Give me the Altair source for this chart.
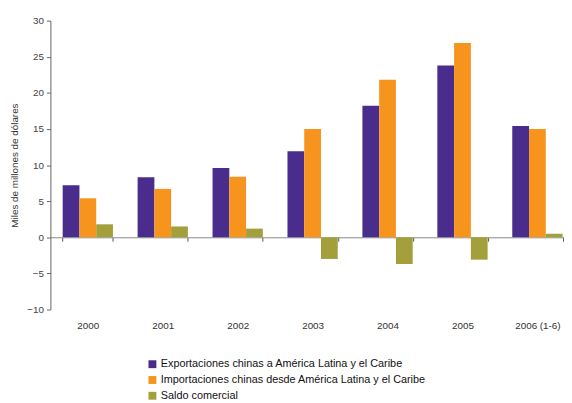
import altair as alt
import pandas as pd

years = ["2000", "2001", "2002", "2003", "2004", "2005", "2006 (1-6)"]
series = [
    "Exportaciones chinas a América Latina y el Caribe",
    "Importaciones chinas desde América Latina y el Caribe",
    "Saldo comercial",
]
exportaciones = [7.2, 8.3, 9.6, 11.9, 18.2, 23.8, 15.4]
importaciones = [5.4, 6.7, 8.4, 15.0, 21.8, 26.9, 15.0]
saldo = [1.8, 1.5, 1.2, -3.0, -3.7, -3.1, 0.5]
colors = ["#4a2c8c", "#f7941d", "#a3a03c"]
y_ticks = [-10, -5, 0, 5, 10, 15, 20, 25, 30]

rows = []
for vals, s in zip([exportaciones, importaciones, saldo], series):
    for yr, v in zip(years, vals):
        rows.append({"year": yr, "serie": s, "value": v})
df = pd.DataFrame(rows)

H = 293
FONT = "Liberation Sans"

chart = alt.Chart(df).mark_bar().encode(
    x=alt.X(
        "year:N",
        sort=years,
        title=None,
        scale=alt.Scale(range=[0, 532], paddingInner=0.329, paddingOuter=0.164),
        axis=alt.Axis(
            orient="bottom",
            offset=-H / 4,
            labelAngle=0,
            labelPadding=81,
            labelFontSize=10,
            labelColor="#333",
            labelFont=FONT,
            domainColor="#888",
            tickColor="#555",
            tickSize=4,
            tickBand="extent",
        ),
    ),
    xOffset=alt.XOffset("serie:N", sort=series),
    y=alt.Y(
        "value:Q",
        scale=alt.Scale(domain=[-10, 30], nice=False),
        axis=alt.Axis(
            values=y_ticks,
            format="d",
            title="Miles de millones de dólares",
            titleFont=FONT,
            titleFontSize=10,
            titleFontWeight="normal",
            titleColor="#333",
            titlePadding=7,
            labelFont=FONT,
            labelFontSize=10,
            labelColor="#444",
            labelPadding=3,
            domainColor="#666",
            tickColor="#666",
            tickSize=4,
            grid=False,
        ),
    ),
    color=alt.Color(
        "serie:N",
        sort=series,
        scale=alt.Scale(domain=series, range=colors),
        legend=alt.Legend(
            title=None,
            orient="none",
            legendX=98,
            legendY=343,
            symbolType="square",
            symbolSize=64,
            symbolStrokeWidth=0,
            labelFont=FONT,
            labelFontSize=11,
            labelColor="#111",
            labelLimit=400,
            rowPadding=4,
            labelOffset=3,
        ),
    ),
).properties(
    width=521,
    height=H,
    autosize=alt.AutoSizeParams(type="none"),
    padding={"left": 43, "top": 10, "right": 0, "bottom": 92},
).configure_view(stroke=None)

chart.save("out.html", embed_options={"renderer": "svg", "actions": False})
